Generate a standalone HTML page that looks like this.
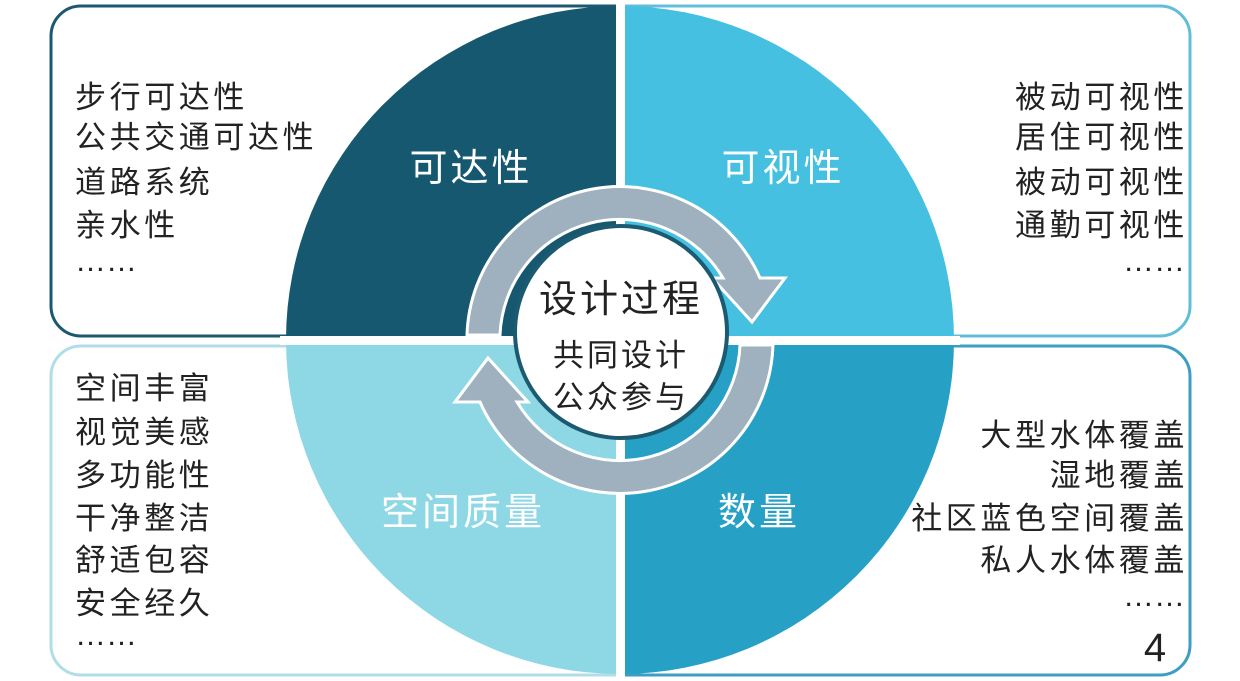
<!DOCTYPE html>
<html><head><meta charset="utf-8"><style>
html,body{margin:0;padding:0;background:#fff;}
svg{display:block;}
.t{font-family:"Liberation Sans","Noto Sans CJK SC",sans-serif;font-size:31px;fill:#222;letter-spacing:3.6px;}
.d{font-family:"Liberation Sans",sans-serif;font-size:31px;fill:#222;}
.q{font-family:"Liberation Sans","Noto Sans CJK SC",sans-serif;font-size:38px;fill:#fff;text-anchor:middle;letter-spacing:3px;}
.c{font-family:"Liberation Sans","Noto Sans CJK SC",sans-serif;fill:#222;text-anchor:middle;}
</style></head><body>
<svg width="1240" height="681" viewBox="0 0 1240 681" xmlns="http://www.w3.org/2000/svg">
<path d="M616,6 H81 A30,30 0 0 0 51,36 V306 A30,30 0 0 0 81,336 H616" fill="none" stroke="#1c5870" stroke-width="3"/>
<path d="M625,6 H1160 A30,30 0 0 1 1190,36 V306 A30,30 0 0 1 1160,336 H625" fill="none" stroke="#62bdd8" stroke-width="3"/>
<path d="M616,346 H81 A30,30 0 0 0 51,376 V645 A30,30 0 0 0 81,675 H616" fill="none" stroke="#b0dde8" stroke-width="3"/>
<path d="M625,346 H1160 A30,30 0 0 1 1190,376 V645 A30,30 0 0 1 1160,675 H625" fill="none" stroke="#3b9ec2" stroke-width="3"/>
<path d="M620,340 L286,340 A334,334 0 0 1 620,6 Z" fill="#16586f"/>
<path d="M620,340 L620,6 A334,334 0 0 1 954,340 Z" fill="#45c0e0"/>
<path d="M620,340 L286,340 A334,334 0 0 0 620,674 Z" fill="#8ed8e6"/>
<path d="M620,340 L954,340 A334,334 0 0 1 620,674 Z" fill="#27a0c6"/>
<rect x="616" y="0" width="9" height="681" fill="#fff"/>
<rect x="280" y="336" width="680" height="9" fill="#fff"/>
<path d="M467,335 A153,153 0 0 1 760,278 L785,278 L752,322 L712,278 L723,278 A120,120 0 0 0 500,335 Z" fill="#9fb1bf" stroke="#fff" stroke-width="3"/>
<path d="M773,345 A153,153 0 0 1 480,402 L455,402 L488,358 L528,402 L517,402 A120,120 0 0 0 740,345 Z" fill="#9fb1bf" stroke="#fff" stroke-width="3"/>
<circle cx="621" cy="332" r="106" fill="#fff" stroke="#1b5a70" stroke-width="4"/>
<text class="c" x="621" y="312" font-size="38" letter-spacing="3">设计过程</text>
<text class="c" x="621" y="366" font-size="31" letter-spacing="3">共同设计</text>
<text class="c" x="621" y="408" font-size="31" letter-spacing="3">公众参与</text>
<text class="q" x="471" y="181">可达性</text>
<text class="q" x="783" y="181">可视性</text>
<text class="q" x="463" y="525">空间质量</text>
<text class="q" x="759" y="525">数量</text>
<text class="t" x="75" y="108">步行可达性</text>
<text class="t" x="75" y="148">公共交通可达性</text>
<text class="t" x="75" y="193">道路系统</text>
<text class="t" x="75" y="236">亲水性</text>
<text class="d" x="75" y="271">……</text>
<g text-anchor="end">
<text class="t" x="1188" y="108">被动可视性</text>
<text class="t" x="1188" y="148">居住可视性</text>
<text class="t" x="1188" y="193">被动可视性</text>
<text class="t" x="1188" y="236">通勤可视性</text>
<text class="d" x="1185" y="271">……</text>
<text class="t" x="1188" y="446">大型水体覆盖</text>
<text class="t" x="1188" y="486">湿地覆盖</text>
<text class="t" x="1188" y="529">社区蓝色空间覆盖</text>
<text class="t" x="1188" y="571">私人水体覆盖</text>
<text class="d" x="1185" y="606">……</text>
</g>
<text x="1155" y="661" font-family="Liberation Sans, sans-serif" font-size="40" fill="#222" text-anchor="middle">4</text>
<text class="t" x="75" y="399">空间丰富</text>
<text class="t" x="75" y="443">视觉美感</text>
<text class="t" x="75" y="486">多功能性</text>
<text class="t" x="75" y="529">干净整洁</text>
<text class="t" x="75" y="571">舒适包容</text>
<text class="t" x="75" y="614">安全经久</text>
<text class="d" x="75" y="645">……</text>
</svg>
</body></html>
